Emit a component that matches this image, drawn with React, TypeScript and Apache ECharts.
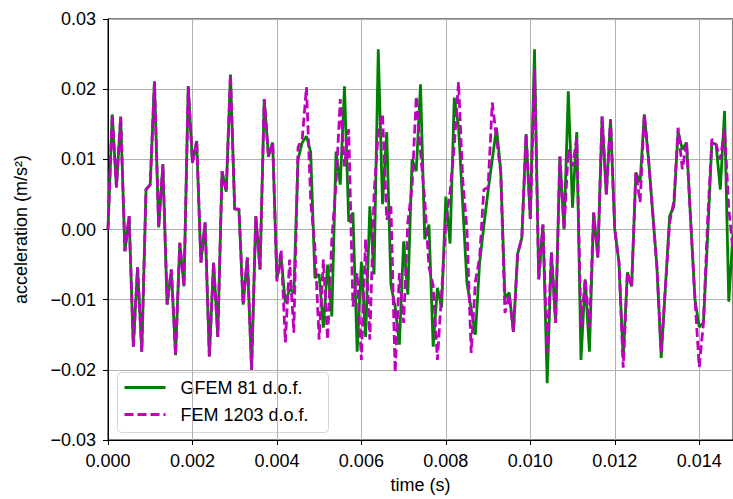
import React, { useEffect, useRef } from "react";
import * as echarts from "echarts";

const TIME_STEP = 1e-4; // s, sampling step of both records
const X_TICKS = ["0.000", "0.002", "0.004", "0.006", "0.008", "0.010", "0.012", "0.014"];
const SERIES_NAMES = ["GFEM 81 d.o.f.", "FEM 1203 d.o.f."];

const gfem81 = [
  0.0, 0.0164, 0.006, 0.0161, -0.0031, 0.0019, -0.0167, -0.0054, -0.0174, 0.0057,
  0.0064, 0.0211, 0.0003, 0.0093, -0.0107, -0.0057, -0.0179, -0.0019, -0.0081, 0.0204,
  0.0095, 0.0126, -0.0047, 0.001, -0.0181, -0.0047, -0.0153, 0.0083, 0.0054, 0.0221,
  0.0029, 0.0029, -0.0107, -0.004, -0.02, 0.0019, -0.0057, 0.0186, 0.0104, 0.0124,
  -0.007, -0.004, -0.0105, -0.0085, -0.009, 0.01, 0.0124, 0.0133, 0.011, -0.0069,
  -0.0064, -0.014, -0.005, -0.0124, 0.0111, 0.0064, 0.0204, 0.0011, 0.0024, -0.0174,
  -0.0046, -0.0153, 0.0033, -0.0064, 0.0257, 0.0036, 0.0139, -0.0079, -0.011, -0.0164,
  -0.0017, -0.0093, 0.01, 0.0083, 0.0207, -0.0014, 0.0007, -0.0167, -0.0083, -0.0111,
  0.0047, -0.002, 0.0188, 0.0147, 0.0035, -0.0076, -0.0113, -0.015, -0.0047, 0.0005,
  0.0055, 0.01, 0.0145, 0.0084, -0.0098, -0.009, -0.0146, -0.0035, -0.0012, 0.0136,
  0.0015, 0.0257, -0.0071, 0.0007, -0.0219, -0.0033, -0.0133, 0.0104, 0.0, 0.0197,
  0.0031, 0.0139, -0.0186, -0.0071, -0.0174, 0.0024, -0.004, 0.0161, 0.005, 0.0157,
  0.0, -0.0047, -0.0183, -0.0061, -0.0081, 0.0081, 0.0067, 0.0164, 0.01, 0.0023,
  -0.0055, -0.0183, -0.0082, 0.0019, 0.0033, 0.014, 0.0114, 0.0124, 0.001, -0.01,
  -0.0139, -0.0133, -0.001, 0.0124, 0.0121, 0.0057, 0.0169, -0.0103, -0.0005,
];

const fem1203 = [
  0.0, 0.0164, 0.006, 0.0161, -0.0031, 0.0019, -0.0167, -0.0054, -0.0174, 0.0057,
  0.0064, 0.0211, 0.0003, 0.0093, -0.0107, -0.0057, -0.0179, -0.0019, -0.0081, 0.0204,
  0.0095, 0.0126, -0.0047, 0.001, -0.0181, -0.0047, -0.0153, 0.0083, 0.0054, 0.0221,
  0.0029, 0.0029, -0.0107, -0.004, -0.02, 0.0019, -0.0057, 0.0186, 0.0104, 0.0124,
  -0.0074, -0.0029, -0.0161, -0.0043, -0.0147, 0.0117, 0.013, 0.0203, 0.004, -0.0025,
  -0.0157, -0.0043, -0.0157, -0.0014, 0.0065, 0.0186, 0.009, 0.0143, -0.011, -0.0062,
  -0.0186, -0.0014, -0.0157, 0.005, 0.014, 0.0165, 0.0014, 0.0033, -0.0204, -0.0062,
  -0.0133, 0.001, 0.006, 0.019, 0.011, 0.0043, -0.0053, -0.008, -0.0186, -0.009,
  0.001, 0.0053, 0.012, 0.021, 0.0071, 0.0, -0.0176, -0.0074, -0.004, 0.0057,
  0.006, 0.0181, 0.013, 0.0081, -0.0119, -0.0093, -0.0146, -0.0035, -0.0012, 0.0136,
  0.0015, 0.0229, -0.0071, 0.0007, -0.0176, -0.0033, -0.0133, 0.0104, 0.0, 0.0114,
  0.009, 0.013, -0.0139, -0.0071, -0.0139, 0.0024, -0.004, 0.0161, 0.005, 0.0157,
  0.0, -0.0047, -0.0197, -0.0061, -0.0081, 0.0081, 0.0039, 0.0164, 0.01, 0.0023,
  -0.0055, -0.0175, -0.0082, 0.001, 0.004, 0.0145, 0.0086, 0.0124, 0.001, -0.01,
  -0.0196, -0.0133, 0.0014, 0.0129, 0.0121, 0.01, 0.0143, 0.003, -0.003,
];

const FONT = "Liberation Sans, Arial, sans-serif";
const GREEN = "#008000";
const MAGENTA = "#bf00bf";
const DASH = [9, 4];
const LINE_W = 2.8;

function toPairs(values: number[]): [number, number][] {
  return values.map((v, i) => [i * TIME_STEP, v]);
}

export default function App() {
  const ref = useRef<HTMLDivElement>(null);

  useEffect(() => {
    document.body.style.margin = "0";
    if (!ref.current) return;
    const chart = echarts.init(ref.current, undefined, { renderer: "svg" });
    const tickStyle = { show: true, length: 5, inside: false, lineStyle: { color: "#000", width: 1 } };
    chart.setOption({
      animation: false,
      backgroundColor: "#ffffff",
      grid: {
        left: 108,
        right: -1,
        top: 19,
        bottom: 58,
        show: true,
        borderColor: "#000",
        borderWidth: 1,
        backgroundColor: "transparent",
      },
      xAxis: {
        type: "value",
        min: 0,
        max: 0.0148,
        interval: 0.002,
        name: "time (s)",
        nameLocation: "middle",
        nameGap: 36,
        nameTextStyle: { fontFamily: FONT, fontSize: 18, color: "#000" },
        axisLine: { show: true, onZero: false, lineStyle: { color: "#000", width: 1 } },
        axisTick: tickStyle,
        splitLine: { show: true, lineStyle: { color: "#b0b0b0", width: 1 } },
        axisLabel: {
          fontFamily: FONT,
          fontSize: 18,
          color: "#000",
          margin: 12,
          showMaxLabel: false,
          formatter: (v: number) => {
            const idx = Math.round(v / 0.002);
            return X_TICKS[idx] ?? "";
          },
        },
      },
      yAxis: {
        type: "value",
        min: -0.03,
        max: 0.03,
        interval: 0.01,
        name: "acceleration (m/s²)",
        nameLocation: "middle",
        nameGap: 78,
        nameTextStyle: { fontFamily: FONT, fontSize: 18, color: "#000" },
        axisLine: { show: true, onZero: false, lineStyle: { color: "#000", width: 1 } },
        axisTick: tickStyle,
        splitLine: { show: true, lineStyle: { color: "#b0b0b0", width: 1 } },
        axisLabel: {
          fontFamily: FONT,
          fontSize: 18,
          color: "#000",
          margin: 12,
          formatter: (v: number) => {
            const r = Math.round(v * 100) / 100;
            if (Math.abs(r) < 1e-9) return "0.00";
            return (r < 0 ? "\u2212" : "") + Math.abs(r).toFixed(2);
          },
        },
      },
      graphic: [
        {
          type: "group",
          left: 117,
          top: 372,
          z: 100,
          children: [
            {
              type: "rect",
              shape: { x: 0, y: 0, width: 211, height: 60, r: 4 },
              style: { fill: "rgba(255,255,255,0.8)", stroke: "#d6d6d6", lineWidth: 1 },
            },
            {
              type: "line",
              shape: { x1: 7, y1: 15, x2: 48, y2: 15 },
              style: { stroke: GREEN, lineWidth: LINE_W },
            },
            {
              type: "line",
              shape: { x1: 7, y1: 42, x2: 48, y2: 42 },
              style: { stroke: MAGENTA, lineWidth: LINE_W, lineDash: DASH },
            },
            {
              type: "text",
              x: 63,
              y: 15,
              style: { text: SERIES_NAMES[0], font: `18px ${FONT}`, fill: "#000", verticalAlign: "middle" },
            },
            {
              type: "text",
              x: 63,
              y: 42,
              style: { text: SERIES_NAMES[1], font: `18px ${FONT}`, fill: "#000", verticalAlign: "middle" },
            },
          ],
        },
      ],
      series: [
        {
          name: SERIES_NAMES[0],
          type: "line",
          data: toPairs(gfem81),
          showSymbol: false,
          symbol: "none",
          lineStyle: { color: GREEN, width: LINE_W },
          itemStyle: { color: GREEN },
          z: 2,
        },
        {
          name: SERIES_NAMES[1],
          type: "line",
          data: toPairs(fem1203),
          showSymbol: false,
          symbol: "none",
          lineStyle: { color: MAGENTA, width: LINE_W, type: DASH },
          itemStyle: { color: MAGENTA },
          z: 3,
        },
      ],
    });
    return () => chart.dispose();
  }, []);

  return <div ref={ref} style={{ width: 733, height: 499 }} />;
}
